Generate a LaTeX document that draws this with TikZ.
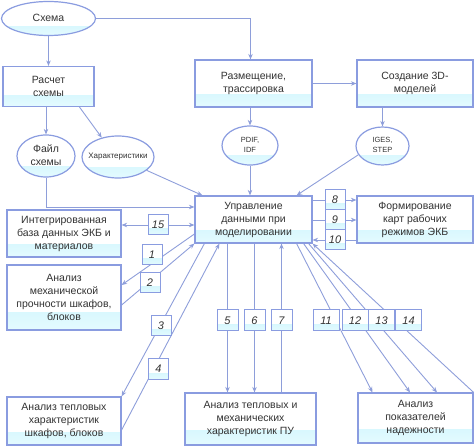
\documentclass[tikz,border=0pt]{standalone}
\usepackage{fontspec}
\setmainfont{Liberation Sans}
\usetikzlibrary{shapes.geometric,arrows.meta,calc}
\definecolor{bcol}{HTML}{8A9CE0}
\definecolor{lcol}{HTML}{8E9EDA}
\definecolor{cyA}{HTML}{BDEFFA}
\definecolor{cyB}{HTML}{E4FBFF}
\definecolor{tcol}{HTML}{333333}
\pgfdeclarelayer{bg}\pgfsetlayers{bg,main}
\newcommand\zb[1]{\makebox[0pt]{\begin{tabular}{@{}c@{}}#1\end{tabular}}}
\begin{document}
\begin{tikzpicture}[x=1pt,y=-1pt,
  band/.style={path picture={\shade[top color=cyA,bottom color=cyB]
      (path picture bounding box.south west) rectangle
      ($(path picture bounding box.south east)!#1!(path picture bounding box.north east)$);}},
  wh/.style n args={2}{minimum width=#1,minimum height=#2},
  box/.style={draw=bcol,line width=1.2pt,fill=white,band=0.27,align=center,text=tcol,
      inner sep=1pt,font=\fontsize{10.5}{13}\selectfont},
  ell/.style={ellipse,draw=bcol,line width=1.2pt,fill=white,band=0.25,text=tcol,
      inner sep=0pt,font=\fontsize{10.5}{13}\selectfont},
  numbox/.style={draw=bcol,line width=1pt,fill=white,band=0.3,text=tcol,inner sep=0pt,
      minimum width=20,minimum height=20,font=\fontsize{11}{13}\selectfont\itshape},
  arr/.style={draw=lcol,line width=0.9pt,-{Stealth[length=5.5pt,width=4.5pt]}},
  arrb/.style={draw=lcol,line width=0.9pt,{Stealth[length=5.5pt,width=4.5pt]}-{Stealth[length=5.5pt,width=4.5pt]}}
]
\useasboundingbox (0,0) rectangle (474,446);

% ellipses
\node[ell,minimum width=94,minimum height=34] (schema) at (48.5,18.5) {\zb{Схема}};
\node[ell,minimum width=58,minimum height=42] (file) at (46,156) {\zb{Файл\\схемы}};
\node[ell,minimum width=72,minimum height=42,font=\fontsize{8}{10}\selectfont] (har) at (118,157) {\zb{Характеристики}};
\node[ell,minimum width=56,minimum height=39,font=\fontsize{7.5}{10}\selectfont] (pdif) at (250,145.5) {\zb{PDIF,\\IDF}};
\node[ell,minimum width=53,minimum height=38,font=\fontsize{7.5}{10}\selectfont] (iges) at (382.5,146) {\zb{IGES,\\STEP}};

% boxes
\node[box,wh={91}{40}] (raschet) at (48.5,86.5) {Расчет\\схемы};
\node[box,wh={117}{47}] (razm) at (253.5,83.5) {Размещение,\\трассировка};
\node[box,wh={116}{47}] (sozd) at (415,83.5) {Создание 3D-\\моделей};
\node[box,wh={117}{47}] (upr) at (253.5,219.5) {Управление\\данными при\\моделировании};
\node[box,wh={116}{47}] (form) at (415,219.5) {Формирование\\карт рабочих\\режимов ЭКБ};
\node[box,wh={114}{47}] (integ) at (64,233.5) {Интегрированная\\база данных ЭКБ и\\материалов};
\node[box,wh={114}{65}] (mech) at (64,297.5) {Анализ\\механической\\прочности шкафов,\\блоков};
\node[box,wh={114}{48}] (teplsh) at (64,421) {Анализ тепловых\\характеристик\\шкафов, блоков};
\node[box,wh={131}{52}] (teplpu) at (250.5,419) {Анализ тепловых и\\механических\\характеристик ПУ};
\node[box,wh={115}{50}] (nadezh) at (415.5,418) {Анализ\\показателей\\надежности};

% number boxes
\node[numbox] (n8) at (335,200) {8};
\node[numbox] (n9) at (335,220) {9};
\node[numbox] (n10) at (335,240) {10};
\node[numbox] (n15) at (158,225) {15};
\node[numbox] (n1) at (152,255) {1};
\node[numbox] (n2) at (150,283) {2};
\node[numbox] (n3) at (161,326) {3};
\node[numbox] (n4) at (158.5,369) {4};
\node[numbox,minimum width=21,minimum height=21] (n5) at (227.5,320.5) {5};
\node[numbox,minimum width=21,minimum height=21] (n6) at (254.5,320.5) {6};
\node[numbox,minimum width=21,minimum height=21] (n7) at (281.5,320.5) {7};
\node[numbox,minimum width=26,minimum height=21] (n11) at (326,320.5) {11};
\node[numbox,minimum width=26,minimum height=21] (n12) at (355,320.5) {12};
\node[numbox,minimum width=26,minimum height=21] (n13) at (381.5,320.5) {13};
\node[numbox,minimum width=26,minimum height=21] (n14) at (408.5,320.5) {14};

\begin{pgfonlayer}{bg}
\draw[arr] (schema.south) -- (schema.south |- raschet.north);
\draw[arr] (schema.east) -| ([xshift=-3]razm.north);
\draw[arr] (file.north |- raschet.south) -- (file.north);
\draw[arr] ([xshift=31]raschet.south) -- (har.130);
\draw[arr] (file.south) |- ([yshift=12.5]upr.west);
\draw[arr] (har.-25) -- ([xshift=8]upr.north west);
\draw[arr] (pdif.north |- razm.south) -- (pdif.north);
\draw[arr] (razm.east) -- (sozd.west);
\draw[arr] (iges.north |- sozd.south) -- (iges.north);
\draw[arr] (pdif.south) -- (pdif.south |- upr.north);
\draw[arr] (iges.200) -- ([xshift=-16]upr.north east);

\draw[arrb] (integ.east |- n15) -- (upr.west |- n15);
\draw[arr] ([yshift=-14.5]upr.west) -- ([yshift=12.5]mech.east);
\draw[arr] ([yshift=-7.5]mech.east) -- (upr.south west);
\draw[arr] ([xshift=10]upr.south west) -- (teplsh.north east);
\draw[arr] ([yshift=-9]teplsh.east) -- ([xshift=25]upr.south west);
\draw[arr] (n5 |- upr.south) -- (n5 |- teplpu.north);
\draw[arr] (n6 |- upr.south) -- (n6 |- teplpu.north);
\draw[arr] (n7 |- teplpu.north) -- (n7 |- upr.south);
\draw[arr] ([xshift=-16]upr.south east) -- ([xshift=-43]nadezh.north);
\draw[arr] ([xshift=-9]upr.south east) -- ([xshift=-5.5]nadezh.north);
\draw[arr] ([xshift=-4]upr.south east) -- ([xshift=21.5]nadezh.north);
\draw[arr] (nadezh.north east) -- (upr.south east);
\draw[arr] (upr.east |- n8) -- (form.west |- n8);
\draw[arr] (upr.east |- n9) -- (form.west |- n9);
\draw[arr] (form.west |- n10) -- (upr.east |- n10);
\end{pgfonlayer}
\end{tikzpicture}
\end{document}
